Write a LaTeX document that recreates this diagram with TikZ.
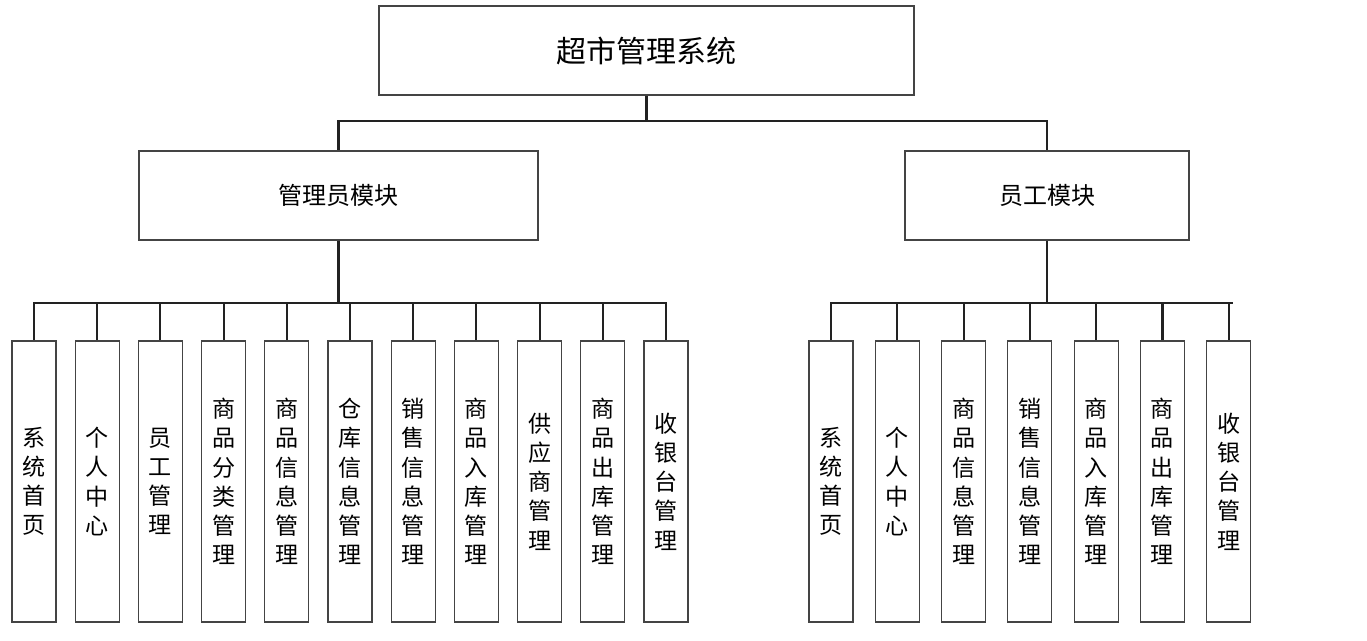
\documentclass[tikz,border=0pt]{standalone}
\usepackage{fontspec}
\setmainfont{Noto Sans CJK SC}
\usetikzlibrary{positioning}
\definecolor{cline}{HTML}{222222}
\definecolor{cedge}{HTML}{444444}
\tikzset{
  every picture/.style={x=0.75pt, y=-0.75pt},
  topbox/.style={draw=cedge, line width=0.8pt, minimum width=401.25pt, minimum height=66.75pt, font=\fontsize{22.5}{27}\selectfont},
  midbox/.style={draw=cedge, line width=0.8pt, minimum height=66.75pt, font=\fontsize{18}{22}\selectfont},
  leafbox/.style={draw=cedge, line width=0.8pt, minimum width=33pt, minimum height=210.75pt, inner sep=0pt, align=center, font=\fontsize{17.3}{21.9}\selectfont},
  conn/.style={draw=cline, line width=1.6pt},
}
\begin{document}
\begin{tikzpicture}
  \useasboundingbox (0,0) rectangle (1367,641);
  % top level
  \node[topbox] (sys) at (646.5,50.5) {超市管理系统};
  \node[midbox, minimum width=299.25pt] (adm) at (338.5,195.5) {管理员模块};
  \node[midbox, minimum width=213pt] (emp) at (1047,195.5) {员工模块};
  \coordinate (j0) at (646.5,121);
  \draw[conn] (sys.south) -- (j0) -| (adm.north);
  \draw[conn] (j0) -| (emp.north);
  % admin leaves
  \coordinate (j1) at (338.5,303);
  \draw[conn] (adm.south) -- (j1);
  \foreach \i/\txt in {0/系\\统\\首\\页, 1/个\\人\\中\\心, 2/员\\工\\管\\理, 3/商\\品\\分\\类\\管\\理,
    4/商\\品\\信\\息\\管\\理, 5/仓\\库\\信\\息\\管\\理, 6/销\\售\\信\\息\\管\\理, 7/商\\品\\入\\库\\管\\理,
    8/供\\应\\商\\管\\理, 9/商\\品\\出\\库\\管\\理, 10/收\\银\\台\\管\\理} {
    \node[leafbox] (a\i) at (34+63.2*\i,481.5) {\txt};
    \draw[conn] (j1) -| (a\i.north);
  }
  % employee leaves
  \coordinate (j2) at (1047,303);
  \draw[conn] (emp.south) -- (j2);
  \foreach \i/\txt in {0/系\\统\\首\\页, 1/个\\人\\中\\心, 2/商\\品\\信\\息\\管\\理, 3/销\\售\\信\\息\\管\\理,
    4/商\\品\\入\\库\\管\\理, 5/商\\品\\出\\库\\管\\理, 6/收\\银\\台\\管\\理} {
    \node[leafbox] (e\i) at (831+66.3*\i,481.5) {\txt};
    \draw[conn] (j2) -| (e\i.north);
  }
  \draw[conn] (e6.north |- j2) -- ++(4,0);
\end{tikzpicture}
\end{document}
